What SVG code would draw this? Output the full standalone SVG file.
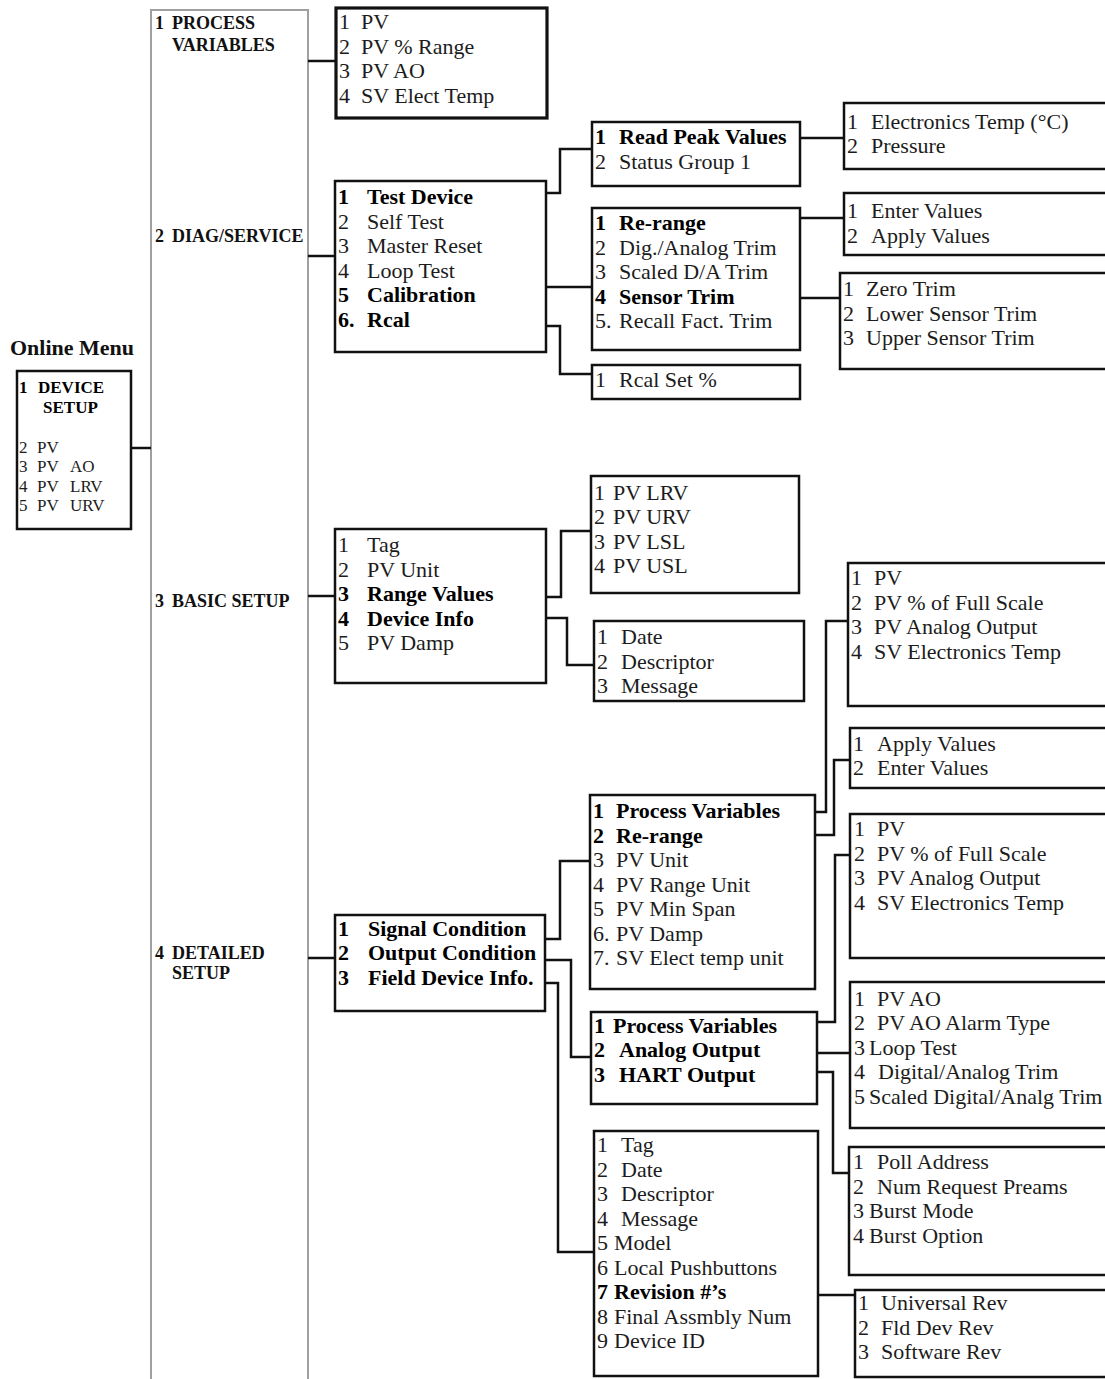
<svg xmlns="http://www.w3.org/2000/svg" width="1105" height="1379" viewBox="0 0 1105 1379">
<style>
text{font-family:"Liberation Serif","Times New Roman",serif;fill:#1c1c1c}
.t{font-size:22px}
.b{font-weight:bold;fill:#000}
.col{font-size:18px;font-weight:bold;fill:#111}
.dev{font-size:17px}
.title{font-size:22px;font-weight:bold;fill:#111}
.box{fill:#fff;stroke:#111;stroke-width:2.5}
.thick{stroke-width:3.2}
.column{fill:none;stroke:#a0a0a0;stroke-width:2}
.conn path{fill:none;stroke:#111;stroke-width:2.5}
</style>
<rect width="1105" height="1379" fill="#fff"/>

<g id="column">
<rect class="column" x="151" y="10" width="157" height="1390"/>
<text class="col" y="29"><tspan x="155">1</tspan><tspan x="172">PROCESS</tspan></text>
<text class="col" x="172" y="51">VARIABLES</text>
<text class="col" y="242"><tspan x="155">2</tspan><tspan x="172">DIAG/SERVICE</tspan></text>
<text class="col" y="607"><tspan x="155">3</tspan><tspan x="172">BASIC SETUP</tspan></text>
<text class="col" y="959"><tspan x="155">4</tspan><tspan x="172">DETAILED</tspan></text>
<text class="col" x="172" y="979">SETUP</text>
</g>

<g class="conn" id="connectors">
<path d="M131 448H151"/>
<path d="M308 61H336"/>
<path d="M308 256H335"/>
<path d="M546 193H560V149H592"/>
<path d="M546 287H592"/>
<path d="M546 326H560V374H592"/>
<path d="M800 138H844"/>
<path d="M800 218H844"/>
<path d="M800 298H840"/>
<path d="M308 596H335"/>
<path d="M546 597H561V531H591"/>
<path d="M546 618H567V665H594"/>
<path d="M308 958H335"/>
<path d="M545 939H560V861H590"/>
<path d="M545 960H571V1057H591"/>
<path d="M545 983H558V1252H594"/>
<path d="M815 812H826V621H848"/>
<path d="M815 835H834V760H850"/>
<path d="M817 1022H835V855H850"/>
<path d="M817 1053H850"/>
<path d="M817 1072H833V1173H849"/>
<path d="M818 1295H855"/>
</g>

<g id="online-menu">
<text class="title" x="10" y="355">Online Menu</text>
<rect class="box" x="17" y="371" width="114" height="158"/>
<text class="dev b" y="393"><tspan x="19">1</tspan><tspan x="38">DEVICE</tspan></text>
<text class="dev b" x="43" y="413">SETUP</text>
<text class="dev" y="453"><tspan x="19">2</tspan><tspan x="37">PV</tspan></text>
<text class="dev" y="472"><tspan x="19">3</tspan><tspan x="37">PV</tspan><tspan x="70">AO</tspan></text>
<text class="dev" y="491.5"><tspan x="19">4</tspan><tspan x="37">PV</tspan><tspan x="70">LRV</tspan></text>
<text class="dev" y="511"><tspan x="19">5</tspan><tspan x="37">PV</tspan><tspan x="70">URV</tspan></text>
</g>

<g id="process-variables">
<rect class="box thick" x="336" y="8" width="211" height="110"/>
<text class="t" y="29"><tspan x="339">1</tspan><tspan x="361">PV</tspan></text>
<text class="t" y="53.5"><tspan x="339">2</tspan><tspan x="361">PV % Range</tspan></text>
<text class="t" y="78"><tspan x="339">3</tspan><tspan x="361">PV AO</tspan></text>
<text class="t" y="102.5"><tspan x="339">4</tspan><tspan x="361">SV Elect Temp</tspan></text>
</g>

<g id="diag-service">
<rect class="box" x="335" y="181" width="211" height="171"/>
<text class="t b" y="204"><tspan x="338">1</tspan><tspan x="367">Test Device</tspan></text>
<text class="t" y="228.5"><tspan x="338">2</tspan><tspan x="367">Self Test</tspan></text>
<text class="t" y="253"><tspan x="338">3</tspan><tspan x="367">Master Reset</tspan></text>
<text class="t" y="277.5"><tspan x="338">4</tspan><tspan x="367">Loop Test</tspan></text>
<text class="t b" y="302"><tspan x="338">5</tspan><tspan x="367">Calibration</tspan></text>
<text class="t b" y="326.5"><tspan x="338">6.</tspan><tspan x="367">Rcal</tspan></text>
</g>

<g id="test-device">
<rect class="box" x="592" y="122" width="208" height="64"/>
<text class="t b" y="144"><tspan x="595">1</tspan><tspan x="619">Read Peak Values</tspan></text>
<text class="t" y="168.5"><tspan x="595">2</tspan><tspan x="619">Status Group 1</tspan></text>
</g>

<g id="calibration">
<rect class="box" x="592" y="208" width="208" height="142"/>
<text class="t b" y="230"><tspan x="595">1</tspan><tspan x="619">Re-range</tspan></text>
<text class="t" y="254.5"><tspan x="595">2</tspan><tspan x="619">Dig./Analog Trim</tspan></text>
<text class="t" y="279"><tspan x="595">3</tspan><tspan x="619">Scaled D/A Trim</tspan></text>
<text class="t b" y="303.5"><tspan x="595">4</tspan><tspan x="619">Sensor Trim</tspan></text>
<text class="t" y="328"><tspan x="595">5.</tspan><tspan x="619">Recall Fact. Trim</tspan></text>
</g>

<g id="rcal">
<rect class="box" x="592" y="365" width="208" height="34"/>
<text class="t" y="387"><tspan x="595">1</tspan><tspan x="619">Rcal Set %</tspan></text>
</g>

<g id="read-peak-values">
<rect class="box" x="844" y="103" width="270" height="66"/>
<text class="t" y="129"><tspan x="847">1</tspan><tspan x="871">Electronics Temp (°C)</tspan></text>
<text class="t" y="153"><tspan x="847">2</tspan><tspan x="871">Pressure</tspan></text>
</g>

<g id="re-range">
<rect class="box" x="844" y="193" width="270" height="62"/>
<text class="t" y="218"><tspan x="847">1</tspan><tspan x="871">Enter Values</tspan></text>
<text class="t" y="243"><tspan x="847">2</tspan><tspan x="871">Apply Values</tspan></text>
</g>

<g id="sensor-trim">
<rect class="box" x="840" y="273" width="274" height="96"/>
<text class="t" y="296"><tspan x="843">1</tspan><tspan x="866">Zero Trim</tspan></text>
<text class="t" y="320.5"><tspan x="843">2</tspan><tspan x="866">Lower Sensor Trim</tspan></text>
<text class="t" y="345"><tspan x="843">3</tspan><tspan x="866">Upper Sensor Trim</tspan></text>
</g>

<g id="basic-setup">
<rect class="box" x="335" y="529" width="211" height="154"/>
<text class="t" y="552"><tspan x="338">1</tspan><tspan x="367">Tag</tspan></text>
<text class="t" y="576.5"><tspan x="338">2</tspan><tspan x="367">PV Unit</tspan></text>
<text class="t b" y="601"><tspan x="338">3</tspan><tspan x="367">Range Values</tspan></text>
<text class="t b" y="625.5"><tspan x="338">4</tspan><tspan x="367">Device Info</tspan></text>
<text class="t" y="650"><tspan x="338">5</tspan><tspan x="367">PV Damp</tspan></text>
</g>

<g id="range-values">
<rect class="box" x="591" y="476" width="208" height="117"/>
<text class="t" y="499.5"><tspan x="594">1</tspan><tspan x="613">PV LRV</tspan></text>
<text class="t" y="524"><tspan x="594">2</tspan><tspan x="613">PV URV</tspan></text>
<text class="t" y="548.5"><tspan x="594">3</tspan><tspan x="613">PV LSL</tspan></text>
<text class="t" y="573"><tspan x="594">4</tspan><tspan x="613">PV USL</tspan></text>
</g>

<g id="device-info">
<rect class="box" x="594" y="621" width="210" height="80"/>
<text class="t" y="644"><tspan x="597">1</tspan><tspan x="621">Date</tspan></text>
<text class="t" y="668.5"><tspan x="597">2</tspan><tspan x="621">Descriptor</tspan></text>
<text class="t" y="693"><tspan x="597">3</tspan><tspan x="621">Message</tspan></text>
</g>

<g id="sc-process-variables">
<rect class="box" x="848" y="563" width="266" height="143"/>
<text class="t" y="585"><tspan x="851">1</tspan><tspan x="874">PV</tspan></text>
<text class="t" y="609.5"><tspan x="851">2</tspan><tspan x="874">PV % of Full Scale</tspan></text>
<text class="t" y="634"><tspan x="851">3</tspan><tspan x="874">PV Analog Output</tspan></text>
<text class="t" y="658.5"><tspan x="851">4</tspan><tspan x="874">SV Electronics Temp</tspan></text>
</g>

<g id="sc-re-range">
<rect class="box" x="850" y="728" width="264" height="60"/>
<text class="t" y="751"><tspan x="853">1</tspan><tspan x="877">Apply Values</tspan></text>
<text class="t" y="775"><tspan x="853">2</tspan><tspan x="877">Enter Values</tspan></text>
</g>

<g id="signal-condition">
<rect class="box" x="590" y="795" width="225" height="194"/>
<text class="t b" y="818"><tspan x="593">1</tspan><tspan x="616">Process Variables</tspan></text>
<text class="t b" y="842.5"><tspan x="593">2</tspan><tspan x="616">Re-range</tspan></text>
<text class="t" y="867"><tspan x="593">3</tspan><tspan x="616">PV Unit</tspan></text>
<text class="t" y="891.5"><tspan x="593">4</tspan><tspan x="616">PV Range Unit</tspan></text>
<text class="t" y="916"><tspan x="593">5</tspan><tspan x="616">PV Min Span</tspan></text>
<text class="t" y="940.5"><tspan x="593">6.</tspan><tspan x="616">PV Damp</tspan></text>
<text class="t" y="965"><tspan x="593">7.</tspan><tspan x="616">SV Elect temp unit</tspan></text>
</g>

<g id="detailed-setup">
<rect class="box" x="335" y="915" width="210" height="96"/>
<text class="t b" y="936"><tspan x="338">1</tspan><tspan x="368">Signal Condition</tspan></text>
<text class="t b" y="960"><tspan x="338">2</tspan><tspan x="368">Output Condition</tspan></text>
<text class="t b" y="985"><tspan x="338">3</tspan><tspan x="368">Field Device Info.</tspan></text>
</g>

<g id="output-condition">
<rect class="box" x="591" y="1012" width="226" height="92"/>
<text class="t b" y="1033"><tspan x="594">1</tspan><tspan x="613">Process Variables</tspan></text>
<text class="t b" y="1057"><tspan x="594">2</tspan><tspan x="619">Analog Output</tspan></text>
<text class="t b" y="1082"><tspan x="594">3</tspan><tspan x="619">HART Output</tspan></text>
</g>

<g id="oc-process-variables">
<rect class="box" x="850" y="814" width="264" height="144"/>
<text class="t" y="836"><tspan x="854">1</tspan><tspan x="877">PV</tspan></text>
<text class="t" y="860.5"><tspan x="854">2</tspan><tspan x="877">PV % of Full Scale</tspan></text>
<text class="t" y="885"><tspan x="854">3</tspan><tspan x="877">PV Analog Output</tspan></text>
<text class="t" y="909.5"><tspan x="854">4</tspan><tspan x="877">SV Electronics Temp</tspan></text>
</g>

<g id="analog-output">
<rect class="box" x="850" y="982" width="264" height="146"/>
<text class="t" y="1005.5"><tspan x="854">1</tspan><tspan x="877">PV AO</tspan></text>
<text class="t" y="1030"><tspan x="854">2</tspan><tspan x="877">PV AO Alarm Type</tspan></text>
<text class="t" y="1054.5"><tspan x="854">3</tspan><tspan x="869">Loop Test</tspan></text>
<text class="t" y="1079"><tspan x="854">4</tspan><tspan x="878">Digital/Analog Trim</tspan></text>
<text class="t" y="1103.5"><tspan x="854">5</tspan><tspan x="869">Scaled Digital/Analg Trim</tspan></text>
</g>

<g id="field-device-info">
<rect class="box" x="594" y="1131" width="224" height="245"/>
<text class="t" y="1152"><tspan x="597">1</tspan><tspan x="621">Tag</tspan></text>
<text class="t" y="1176.5"><tspan x="597">2</tspan><tspan x="621">Date</tspan></text>
<text class="t" y="1201"><tspan x="597">3</tspan><tspan x="621">Descriptor</tspan></text>
<text class="t" y="1225.5"><tspan x="597">4</tspan><tspan x="621">Message</tspan></text>
<text class="t" y="1250"><tspan x="597">5</tspan><tspan x="614">Model</tspan></text>
<text class="t" y="1274.5"><tspan x="597">6</tspan><tspan x="614">Local Pushbuttons</tspan></text>
<text class="t b" y="1299"><tspan x="597">7</tspan><tspan x="614">Revision #’s</tspan></text>
<text class="t" y="1323.5"><tspan x="597">8</tspan><tspan x="614">Final Assmbly Num</tspan></text>
<text class="t" y="1348"><tspan x="597">9</tspan><tspan x="614">Device ID</tspan></text>
</g>

<g id="hart-output">
<rect class="box" x="849" y="1147" width="265" height="128"/>
<text class="t" y="1169"><tspan x="853">1</tspan><tspan x="877">Poll Address</tspan></text>
<text class="t" y="1194"><tspan x="853">2</tspan><tspan x="877">Num Request Preams</tspan></text>
<text class="t" y="1218"><tspan x="853">3</tspan><tspan x="869">Burst Mode</tspan></text>
<text class="t" y="1243"><tspan x="853">4</tspan><tspan x="869">Burst Option</tspan></text>
</g>

<g id="revisions">
<rect class="box" x="855" y="1290" width="259" height="87"/>
<text class="t" y="1310"><tspan x="858">1</tspan><tspan x="881">Universal Rev</tspan></text>
<text class="t" y="1335"><tspan x="858">2</tspan><tspan x="881">Fld Dev Rev</tspan></text>
<text class="t" y="1359"><tspan x="858">3</tspan><tspan x="881">Software Rev</tspan></text>
</g>
</svg>
